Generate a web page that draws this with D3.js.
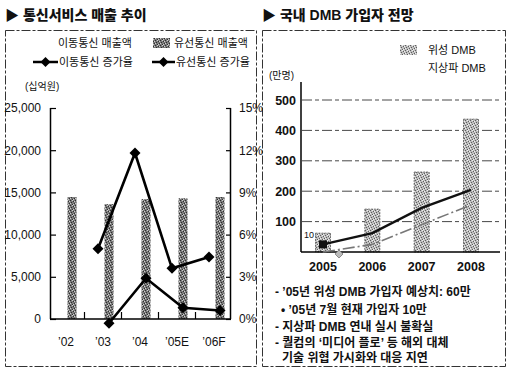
<!DOCTYPE html>
<html><head><meta charset="utf-8">
<script src="https://cdn.jsdelivr.net/npm/d3@7"></script>
<style>
html,body{margin:0;padding:0;background:#fff;}
svg{display:block;}
text{font-family:"Liberation Sans","Noto Sans CJK KR",sans-serif;fill:#111;}
</style></head><body>
<svg id="c" width="507" height="370"></svg>
<script>
// ---- Left chart data ----
const cats = ["\u201902", "\u201903", "\u201904", "\u201905E", "\u201906F"];
const wirelineRevenue = [14450, 13600, 14200, 14300, 14450];
const mobileGrowth = [null, 5.0, 11.8, 3.6, 4.4];
const wirelineGrowth = [null, -0.3, 2.9, 0.8, 0.6];
const leftTicks = [0, 5000, 10000, 15000, 20000, 25000];
const rightTicks = [0, 3, 6, 9, 12, 15];

// ---- Right chart data ----
const years = ["2005", "2006", "2007", "2008"];
const satelliteBars = [62, 141, 263, 437];
const lineDark = [25, 62, 145, 204];
const lineGrey = [0, 25, 90, 155];
const dmbTicks = [100, 200, 300, 400, 500];

const notes = [
  ["- \u201905년 위성 DMB 가입자 예상치: 60만", 275, 296],
  ["• \u201905년 7월 현재 가입자 10만", 281, 314],
  ["- 지상파 DMB 연내 실시 불확실", 275, 331],
  ["- 퀄컴의 \u2018미디어 플로\u2019 등 해외 대체", 275, 347],
  ["기술 위협 가시화와 대응 지연", 282, 362]
];

const svg = d3.select("#c");
const defs = svg.append("defs");
function stipple(id, bg, dark, light) {
  const p = defs.append("pattern").attr("id", id).attr("width", 5).attr("height", 5)
    .attr("patternUnits", "userSpaceOnUse");
  p.append("rect").attr("width", 5).attr("height", 5).attr("fill", bg);
  [[0,0],[3,1],[1,2],[4,3],[2,4]].forEach(([a,b]) => p.append("rect").attr("x", a).attr("y", b).attr("width", 1).attr("height", 1).attr("fill", dark));
  [[2,0],[0,3],[3,4],[4,1]].forEach(([a,b]) => p.append("rect").attr("x", a).attr("y", b).attr("width", 1).attr("height", 1).attr("fill", light));
}
stipple("hatL", "#7a7a7a", "#2e2e2e", "#cfcfcf");
stipple("hatR", "#bdbdbd", "#5e5e5e", "#efefef");

// panel boxes
svg.append("rect").attr("x", 5.5).attr("y", 30.5).attr("width", 251).attr("height", 336)
  .attr("fill", "none").attr("stroke", "#333").attr("stroke-width", 1).attr("stroke-dasharray", "9,2,3,2");
svg.append("rect").attr("x", 262.5).attr("y", 30.5).attr("width", 243).attr("height", 336)
  .attr("fill", "none").attr("stroke", "#333").attr("stroke-width", 1).attr("stroke-dasharray", "9,2,3,2");

// titles
svg.append("text").attr("x", 5).attr("y", 20).attr("font-size", 14).attr("font-weight", "900").attr("fill", "#000").text("▶ 통신서비스 매출 추이");
svg.append("text").attr("x", 262).attr("y", 20).attr("font-size", 14).attr("font-weight", "900").attr("fill", "#000").text("▶ 국내 DMB 가입자 전망");

// ===== LEFT CHART =====
const x = d3.scalePoint().domain(cats).range([66, 214]);
const yL = d3.scaleLinear().domain([0, 25000]).range([319, 108]);
const yR = d3.scaleLinear().domain([0, 15]).range([319, 108]);
const g = svg.append("g");

// legend
g.append("text").attr("x", 58).attr("y", 47).attr("font-size", 11).attr("fill", "#333").text("이동통신 매출액");
g.append("rect").attr("x", 153).attr("y", 38).attr("width", 17).attr("height", 10).attr("fill", "url(#hatL)");
g.append("text").attr("x", 174).attr("y", 47).attr("font-size", 11).attr("fill", "#333").text("유선통신 매출액");
const diamond = "M0,-5L5,0L0,5L-5,0Z";
[[33, 58, "이동통신 증가율"], [152, 175, "유선통신 증가율"]].forEach(([a, b, t]) => {
  g.append("line").attr("x1", a).attr("x2", b).attr("y1", 62).attr("y2", 62).attr("stroke", "#000").attr("stroke-width", 2.5);
  g.append("path").attr("d", diamond).attr("transform", `translate(${(a+b)/2},62)`).attr("fill", "#000");
  g.append("text").attr("x", b + 1).attr("y", 66).attr("font-size", 11).attr("fill", "#333").text(t);
});
g.append("text").attr("x", 25).attr("y", 90).attr("font-size", 10).attr("fill", "#333").text("(십억원)");

// bars
g.selectAll(".barL").data(wirelineRevenue).join("rect")
  .attr("x", (d, i) => x(cats[i]) + 6 - 4.5).attr("width", 9)
  .attr("y", d => yL(d)).attr("height", d => yL(0) - yL(d))
  .attr("fill", "url(#hatL)");

// axes
const axL = g.append("g").attr("transform", "translate(50,0)")
  .call(d3.axisLeft(yL).tickValues(leftTicks).tickSize(-6).tickPadding(9).tickFormat(d3.format(",")));
const axR = g.append("g").attr("transform", "translate(231,0)")
  .call(d3.axisRight(yR).tickValues(rightTicks).tickSize(-5).tickPadding(8).tickFormat(d => d + "%"));
[axL, axR].forEach(a => {
  a.select(".domain").attr("stroke", "#000").attr("stroke-width", 1.5);
  a.selectAll(".tick line").attr("stroke", "#000").attr("stroke-width", 1.2);
  a.selectAll(".tick text").attr("font-size", 12).attr("fill", "#111").attr("font-family", "Liberation Sans");
});
axL.select(".domain").attr("d", "M0.5,108V319");
axR.select(".domain").attr("d", "M-0.5,108V319");
g.append("line").attr("x1", 50).attr("x2", 231).attr("y1", 319).attr("y2", 319).attr("stroke", "#000").attr("stroke-width", 1.5);
// category boundary ticks
cats.slice(1).forEach((c, i) => {
  const bx = (x(cats[i]) + x(c)) / 2;
  g.append("line").attr("x1", bx).attr("x2", bx).attr("y1", 319).attr("y2", 312).attr("stroke", "#000").attr("stroke-width", 1.2);
});
g.selectAll(".catL").data(cats).join("text")
  .attr("x", d => x(d)).attr("y", 346).attr("text-anchor", "middle").attr("font-size", 12).text(d => d);

// lines
function growthLine(vals, off) {
  const pts = vals.map((v, i) => [v, i]).filter(p => p[0] !== null);
  const ln = d3.line().x(p => x(cats[p[1]]) + off).y(p => yR(p[0]));
  g.append("path").attr("d", ln(pts)).attr("fill", "none").attr("stroke", "#000").attr("stroke-width", 2.6);
  g.selectAll(null).data(pts).join("path").attr("d", diamond)
    .attr("transform", p => `translate(${x(cats[p[1]]) + off},${yR(p[0])}) scale(1.1)`).attr("fill", "#000");
}
growthLine(mobileGrowth, -5);
growthLine(wirelineGrowth, 6);

// ===== RIGHT CHART =====
const xD = d3.scalePoint().domain(years).range([323, 471]);
const yD = d3.scaleLinear().domain([0, 500]).range([252, 100]);
const h = svg.append("g");

h.append("rect").attr("x", 400).attr("y", 45).attr("width", 17).attr("height", 10).attr("fill", "url(#hatR)");
h.append("text").attr("x", 428).attr("y", 54).attr("font-size", 11).attr("fill", "#333").text("위성 DMB");
h.append("text").attr("x", 428).attr("y", 72).attr("font-size", 11).attr("fill", "#333").text("지상파 DMB");
h.append("text").attr("x", 269).attr("y", 79).attr("font-size", 10).attr("fill", "#333").text("(만명)");

h.selectAll(".grid").data(dmbTicks).join("line")
  .attr("x1", 302).attr("x2", 500).attr("y1", d => yD(d)).attr("y2", d => yD(d))
  .attr("stroke", "#333").attr("stroke-width", 0.9).attr("stroke-dasharray", "10,3,4,3");
h.selectAll(".ylab").data(dmbTicks).join("text")
  .attr("x", 296).attr("y", d => yD(d) + 4.5).attr("text-anchor", "end")
  .attr("font-size", 12.5).attr("font-weight", "bold").text(d => d);

h.selectAll(".barR").data(satelliteBars).join("rect")
  .attr("x", (d, i) => xD(years[i]) - 7.5).attr("width", 15)
  .attr("y", d => yD(d)).attr("height", d => yD(0) - yD(d))
  .attr("fill", "url(#hatR)").attr("stroke", "#555").attr("stroke-width", 0.8).attr("stroke-dasharray", "2,1");

h.append("line").attr("x1", 301).attr("x2", 301).attr("y1", 82).attr("y2", 252).attr("stroke", "#000").attr("stroke-width", 1.5);
h.append("line").attr("x1", 301).attr("x2", 500).attr("y1", 252).attr("y2", 252).attr("stroke", "#000").attr("stroke-width", 1.5);
h.selectAll(".xlab").data(years).join("text")
  .attr("x", d => xD(d)).attr("y", 271).attr("text-anchor", "middle")
  .attr("font-size", 12.5).attr("font-weight", "bold").text(d => d);

const lnD = d3.line().x((d, i) => xD(years[i])).y(d => yD(d));
h.append("path").attr("d", lnD(lineGrey)).attr("fill", "none").attr("stroke", "#777").attr("stroke-width", 1.6).attr("stroke-dasharray", "12,3,2,3");
h.append("path").attr("d", diamond).attr("transform", `translate(${xD(years[0]) + 16},${yD(lineGrey[0]) + 2}) scale(0.8)`).attr("fill", "#bbb").attr("stroke", "#777");
h.append("path").attr("d", lnD(lineDark)).attr("fill", "none").attr("stroke", "#111").attr("stroke-width", 2.4);
h.append("rect").attr("x", xD(years[0]) - 4).attr("y", yD(lineDark[0]) - 4).attr("width", 8).attr("height", 8).attr("fill", "#111");
h.append("text").attr("x", 304).attr("y", 238).attr("font-size", 9).text("10");

// notes
h.selectAll(".note").data(notes).join("text")
  .attr("x", d => d[1]).attr("y", d => d[2]).attr("font-size", 12).attr("font-weight", "bold")
  .attr("font-family", "Noto Sans CJK KR").text(d => d[0]);
</script>
</body></html>
